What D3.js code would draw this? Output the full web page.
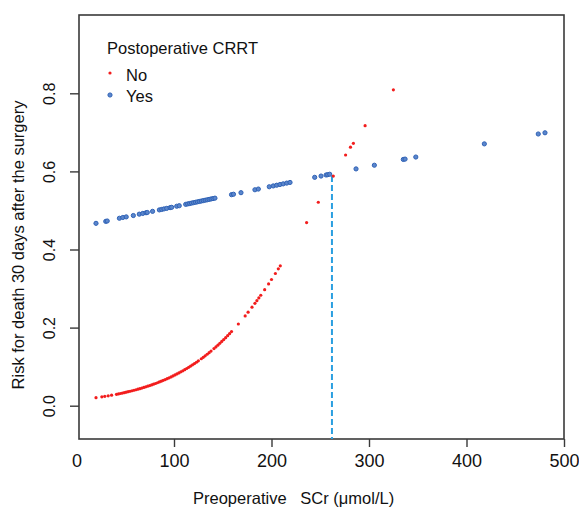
<!DOCTYPE html>
<html>
<head>
<meta charset="utf-8">
<script src="https://cdn.jsdelivr.net/npm/d3@7"></script>
<style>
  body { margin: 0; background: #fff; }
  text { font-family: "Liberation Sans", Arial, sans-serif; fill: #111; }
</style>
</head>
<body>
<script>
// Postoperative CRRT = No
var noX = [20, 26, 29, 32.5, 36, 41, 43, 45, 47, 49, 51, 53, 55, 57, 59, 61, 63, 65, 67, 69,
  71, 73, 75, 77, 79, 81, 83, 85, 87, 89, 91, 93, 95, 97, 99, 101, 103, 105, 107, 109,
  111, 113, 115, 117, 119, 121, 123, 125, 128, 130, 132, 134, 136, 138, 141, 143, 145, 147, 149, 151,
  153, 155, 157, 159, 166, 173, 176, 180, 183, 185, 187, 189, 193, 197, 200, 204, 207, 209,
  236, 248, 263.4, 276, 281, 284, 296, 325];
var noY = [0.0205, 0.0227, 0.0239, 0.0253, 0.0269, 0.0292, 0.0302, 0.0313, 0.0323, 0.0334, 0.0346, 0.0358, 0.0370, 0.0383, 0.0396, 0.0409, 0.0423, 0.0437, 0.0452, 0.0467,
  0.0483, 0.0499, 0.0516, 0.0533, 0.0551, 0.0569, 0.0588, 0.0608, 0.0628, 0.0649, 0.0670, 0.0692, 0.0715, 0.0738, 0.0763, 0.0787, 0.0813, 0.0839, 0.0867, 0.0894,
  0.0923, 0.0952, 0.0983, 0.1014, 0.1046, 0.1079, 0.1113, 0.1148, 0.1202, 0.1239, 0.1277, 0.1317, 0.1357, 0.1398, 0.1462, 0.1506, 0.1551, 0.1598, 0.1645, 0.1693,
  0.1742, 0.1793, 0.1845, 0.1897, 0.2092, 0.2300, 0.2394, 0.2522, 0.2622, 0.2689, 0.2759, 0.2829, 0.2971, 0.3119, 0.3232, 0.3385, 0.3504, 0.3583,
  0.469, 0.521, 0.588, 0.642, 0.662, 0.672, 0.717, 0.809];

// Postoperative CRRT = Yes
var yesX = [20, 30, 31.5, 44, 47.5, 51, 58.3, 64.4, 68, 71.3, 72.6, 78, 85, 87.4, 89.7, 92.5, 96, 97.6, 102.8, 105.4,
  112, 114, 116, 118, 120, 122, 124, 126, 128, 130, 132, 134, 136, 138, 140, 142, 159, 161, 168.7, 183,
  186.5, 197.7, 201.8, 205.3, 208.7, 212, 215.6, 219, 244.3, 250.8, 256, 257.6, 259.7, 286.7, 305.5, 335.2, 337, 348, 418.3, 473.6, 480.5];
var yesY = [0.467, 0.472, 0.473, 0.480, 0.482, 0.4835, 0.487, 0.4905, 0.4924, 0.4941, 0.4948, 0.4977, 0.5014, 0.5026, 0.5039, 0.5053, 0.5072, 0.5080, 0.5108, 0.5121,
  0.5156, 0.5167, 0.5177, 0.5188, 0.5199, 0.5209, 0.5220, 0.5230, 0.5241, 0.5252, 0.5262, 0.5272, 0.5283, 0.5294, 0.5304, 0.5315, 0.5404, 0.5415, 0.5455, 0.5530,
  0.5548, 0.5607, 0.5628, 0.5646, 0.5664, 0.5681, 0.5700, 0.5717, 0.5848, 0.5881, 0.5908, 0.5916, 0.5927, 0.6064, 0.6158, 0.6306, 0.6315, 0.6368, 0.6705, 0.6958, 0.6989];

// cutoff marker
var cutX = 262, cutY = 0.588;

var xTicks = [0, 100, 200, 300, 400, 500];
var yTicks = [0.0, 0.2, 0.4, 0.6, 0.8];

var W = 579, H = 507;
var plot = { left: 79, right: 564, top: 15, bottom: 439 };

var svg = d3.select("body").append("svg")
    .attr("width", W)
    .attr("height", H);

var x = d3.scaleLinear().domain([0, 500]).range([76.5, 564]);
var y = d3.scaleLinear().domain([0, 0.8]).range([405.7, 93.3]);

// frame
svg.append("rect")
    .attr("x", plot.left).attr("y", plot.top)
    .attr("width", plot.right - plot.left)
    .attr("height", plot.bottom - plot.top)
    .attr("fill", "none")
    .attr("stroke", "#3a3a3a")
    .attr("stroke-width", 1.6);

// x axis
var gx = svg.append("g")
    .attr("transform", "translate(0," + plot.bottom + ")")
    .call(d3.axisBottom(x).tickValues(xTicks).tickFormat(d3.format("d")).tickSize(8).tickPadding(7));
gx.select(".domain").remove();
gx.selectAll(".tick line").attr("stroke", "#3a3a3a").attr("stroke-width", 1.4)
    .attr("opacity", function(d) { return d === 0 ? 0 : 1; });
gx.selectAll(".tick text")
    .attr("font-size", 18)
    .attr("font-family", "Liberation Sans, Arial, sans-serif")
    .attr("fill", "#111");

// y axis
var gy = svg.append("g")
    .attr("transform", "translate(" + plot.left + ",0)")
    .call(d3.axisLeft(y).tickValues(yTicks).tickFormat(d3.format(".1f")).tickSize(9));
gy.select(".domain").remove();
gy.selectAll(".tick line").attr("stroke", "#3a3a3a").attr("stroke-width", 1.4);
gy.selectAll(".tick text")
    .attr("font-size", 16)
    .attr("font-family", "Liberation Sans, Arial, sans-serif")
    .attr("fill", "#111")
    .attr("x", 0).attr("dy", 0)
    .attr("text-anchor", "middle")
    .attr("transform", "translate(-24.5,0) rotate(-90)");

// axis titles
svg.append("text")
    .attr("x", 193).attr("y", 504)
    .attr("font-size", 16.5)
    .style("white-space", "pre")
    .text("Preoperative   SCr (\u03bcmol/L)");

svg.append("text")
    .attr("transform", "translate(24,245) rotate(-90)")
    .attr("text-anchor", "middle")
    .attr("font-size", 16.5)
    .text("Risk for death 30 days after the surgery");

// dashed cutoff line
svg.append("line")
    .attr("x1", x(cutX)).attr("x2", x(cutX))
    .attr("y1", y(cutY)).attr("y2", plot.bottom)
    .attr("stroke", "#2b9fe0")
    .attr("stroke-width", 2)
    .attr("stroke-dasharray", "6,3");

var noData = noX.map(function(v, i) { return { x: v, y: noY[i] }; });
var yesData = yesX.map(function(v, i) { return { x: v, y: yesY[i] }; });

svg.selectAll("circle.yes")
    .data(yesData)
    .enter().append("circle")
    .attr("class", "yes")
    .attr("cx", function(d) { return x(d.x); })
    .attr("cy", function(d) { return y(d.y); })
    .attr("r", 2.1)
    .attr("fill", "#5b86cc")
    .attr("stroke", "#2f62b6")
    .attr("stroke-width", 1);

svg.selectAll("circle.no")
    .data(noData)
    .enter().append("circle")
    .attr("class", "no")
    .attr("cx", function(d) { return x(d.x); })
    .attr("cy", function(d) { return y(d.y); })
    .attr("r", 1.6)
    .attr("fill", "#f21d1d");

// legend
var legend = svg.append("g");
legend.append("text")
    .attr("x", 107).attr("y", 54)
    .attr("font-size", 16.5)
    .text("Postoperative CRRT");
legend.append("circle").attr("cx", 110).attr("cy", 73).attr("r", 1.6).attr("fill", "#f21d1d");
legend.append("text").attr("x", 126).attr("y", 81).attr("font-size", 16.5).text("No");
legend.append("circle").attr("cx", 110).attr("cy", 95).attr("r", 2.1)
    .attr("fill", "#5b86cc").attr("stroke", "#2f62b6").attr("stroke-width", 1);
legend.append("text").attr("x", 126).attr("y", 102).attr("font-size", 16.5).text("Yes");
</script>
</body>
</html>
